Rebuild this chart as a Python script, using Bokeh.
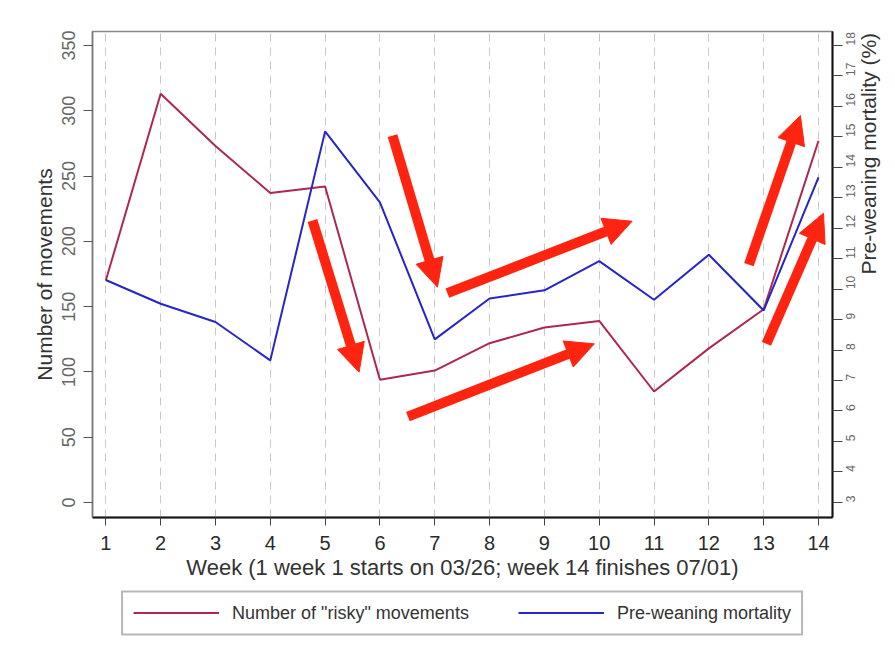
import math
from bokeh.plotting import figure
from bokeh.layouts import column
from bokeh.models import (Range1d, LinearAxis, FixedTicker, Legend, LegendItem,
                          Arrow, NormalHead, ColumnDataSource)
from bokeh.embed import file_html
from bokeh.resources import INLINE

# ---------------- data ----------------
weeks = [1, 2, 3, 4, 5, 6, 7, 8, 9, 10, 11, 12, 13, 14]
risky_movements = [170, 313, 273, 237, 242, 94, 101, 122, 134, 139, 85, 118, 148, 277]
mortality_pct = [10.3, 9.52, 8.92, 7.66, 15.18, 12.85, 8.35, 9.69, 9.96, 10.92, 9.65, 11.13, 9.3, 13.67]

left_ticks = [0, 50, 100, 150, 200, 250, 300, 350]
right_ticks = [3, 4, 5, 6, 7, 8, 9, 10, 11, 12, 13, 14, 15, 16, 17, 18]

x_title = "Week (1 week 1 starts on 03/26; week 14 finishes 07/01)"
left_title = "Number of movements"
right_title = "Pre-weaning mortality (%)"
series_names = ['Number of "risky" movements', "Pre-weaning mortality"]

# hand-drawn highlight arrows (week, movements axis)
arrow_x_start = [6.23, 4.77, 7.23, 6.51, 12.73, 13.05]
arrow_y_start = [281.0, 215.9, 160.3, 65.8, 182.2, 121.5]
arrow_x_end = [7.05, 5.62, 10.60, 9.91, 13.67, 14.09]
arrow_y_end = [164.9, 99.8, 215.4, 121.5, 296.3, 221.5]

RED = "#ad2850"
BLUE = "#2626c8"
ARROW = "#ff2410"
FONT = "Liberation Sans"

p = figure(frame_width=740, frame_height=486,
           x_range=Range1d(0.757, 14.255), y_range=Range1d(-11.5, 360.7),
           output_backend="svg", toolbar_location=None,
           min_border_left=92, min_border_top=31, min_border_right=55,
           min_border_bottom=64)
p.extra_y_ranges = {"mort": Range1d(2.50, 18.46)}

p.outline_line_color = "#888888"
p.outline_line_width = 1.5
p.background_fill_color = "white"
p.border_fill_color = "white"

# grid
p.ygrid.visible = False
p.xgrid.ticker = FixedTicker(ticks=weeks)
p.xgrid.grid_line_color = "#c8c8c8"
p.xgrid.grid_line_dash = "8 6"
p.xgrid.grid_line_width = 1

# x axis
xa = p.xaxis[0]
xa.ticker = FixedTicker(ticks=weeks)
xa.axis_label = x_title
xa.axis_label_text_font = FONT
xa.axis_label_text_font_size = "22px"
xa.axis_label_text_font_style = "normal"
xa.axis_label_text_color = "#333333"
xa.axis_label_standoff = 2
xa.major_label_text_font = FONT
xa.major_label_text_font_size = "20px"
xa.major_label_text_color = "#2a2a2a"
xa.major_label_standoff = 10
xa.axis_line_color = "#111111"
xa.axis_line_width = 2
xa.major_tick_in = 0
xa.major_tick_out = 8
xa.major_tick_line_color = "#444444"
xa.minor_tick_line_color = None

# left axis
ya = p.yaxis[0]
ya.ticker = FixedTicker(ticks=left_ticks)
ya.axis_label = left_title
ya.axis_label_text_font = FONT
ya.axis_label_text_font_size = "21px"
ya.axis_label_text_font_style = "normal"
ya.axis_label_text_color = "#333333"
ya.axis_label_standoff = 4
ya.major_label_orientation = "vertical"
ya.major_label_text_font = FONT
ya.major_label_text_font_size = "18px"
ya.major_label_text_color = "#666666"
ya.major_label_standoff = 8
ya.axis_line_color = "#777777"
ya.axis_line_width = 1.5
ya.major_tick_in = 0
ya.major_tick_out = 9
ya.major_tick_line_color = "#555555"
ya.minor_tick_line_color = None

# right axis
ra = LinearAxis(y_range_name="mort", ticker=FixedTicker(ticks=right_ticks))
ra.axis_label = right_title
ra.axis_label_text_font = FONT
ra.axis_label_text_font_size = "21px"
ra.axis_label_text_font_style = "normal"
ra.axis_label_text_color = "#333333"
ra.axis_label_standoff = 6
ra.axis_label_orientation = math.pi / 2
ra.major_label_orientation = math.pi / 2
ra.major_label_text_font = FONT
ra.major_label_text_font_size = "12px"
ra.major_label_text_color = "#666666"
ra.major_label_standoff = 8
ra.axis_line_color = "#111111"
ra.axis_line_width = 2
ra.major_tick_in = 0
ra.major_tick_out = 10
ra.major_tick_line_color = "#444444"
ra.minor_tick_line_color = None
p.add_layout(ra, "right")

# series
r_red = p.line(weeks, risky_movements, line_color=RED, line_width=2)
r_blue = p.line(weeks, mortality_pct, line_color=BLUE, line_width=2, y_range_name="mort")

# arrows
asrc = ColumnDataSource(dict(xs=arrow_x_start, ys=arrow_y_start, xe=arrow_x_end, ye=arrow_y_end))
p.add_layout(Arrow(end=NormalHead(size=28, fill_color=ARROW, line_color=ARROW, line_width=1),
                   x_start="xs", y_start="ys", x_end="xe", y_end="ye", source=asrc,
                   line_color=ARROW, line_width=10, line_cap="butt"))

# legend strip below the chart (series drawn off-range, only their legend glyphs show)
lg = figure(frame_width=740, frame_height=61, output_backend="svg", toolbar_location=None,
            min_border_left=92, min_border_right=55, min_border_top=0, min_border_bottom=0,
            x_range=Range1d(-10, -9), y_range=Range1d(-10, -9))
lg.axis.visible = False
lg.grid.visible = False
lg.outline_line_color = None
lg_red = lg.line(weeks, risky_movements, line_color=RED, line_width=2)
lg_blue = lg.line(weeks, mortality_pct, line_color=BLUE, line_width=2)
legend = Legend(items=[LegendItem(label=series_names[0], renderers=[lg_red]),
                       LegendItem(label=series_names[1], renderers=[lg_blue])],
                orientation="horizontal", location="center",
                glyph_width=86, glyph_height=20, label_standoff=13, spacing=49,
                padding=10, margin=0,
                border_line_color="#707070", border_line_width=2,
                label_text_font=FONT, label_text_font_size="18px",
                label_text_color="#333333")
lg.add_layout(legend)

open("out.html", "w").write(file_html(column(p, lg, spacing=0), INLINE))
